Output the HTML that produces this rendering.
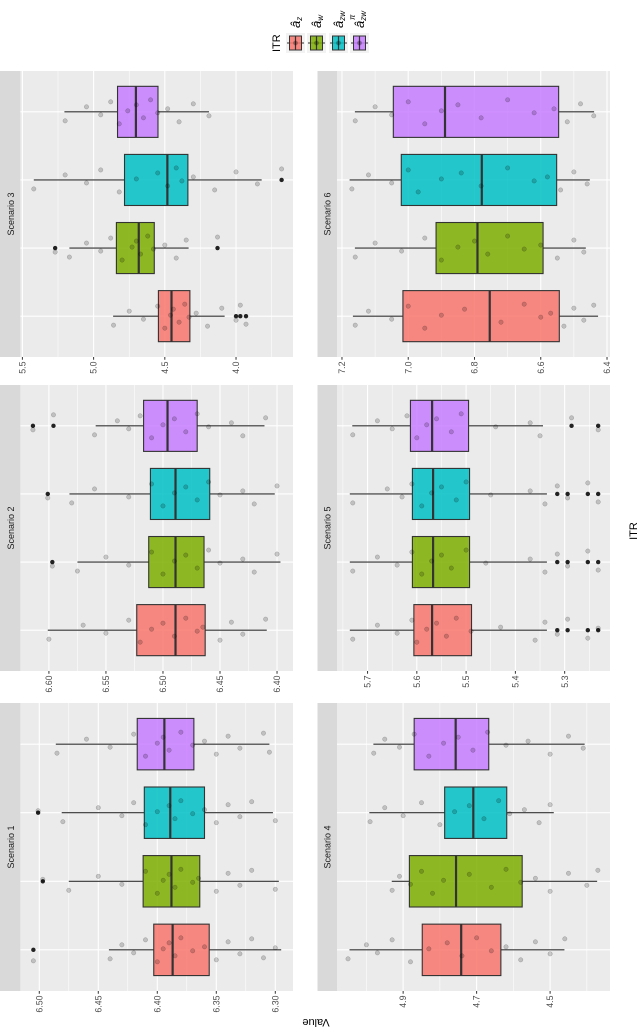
<!DOCTYPE html>
<html><head><meta charset="utf-8"><style>
html,body{margin:0;padding:0;background:#fff;}
body{width:640px;height:1032px;overflow:hidden;position:relative;}
#chart{position:absolute;left:0;top:0;transform-origin:0 0;transform:translate(0px,1032px) rotate(-90deg);}
text{font-family:"Liberation Sans",sans-serif;}
</style></head><body>
<svg id="chart" width="1032" height="640" viewBox="0 0 1032 640" xmlns="http://www.w3.org/2000/svg"></svg>
<script>
const scenarioNames = ['Scenario 1','Scenario 2','Scenario 3','Scenario 4','Scenario 5','Scenario 6'];
const groupNames = ['a_z','a_w','a_zw','a_zw_pi'];
const yMin = [6.285, 6.386, 3.60, 4.337, 5.208, 6.391];
const yMax = [6.516, 6.625, 5.514, 5.08, 5.762, 7.215];
const yTicks = [[6.30,6.35,6.40,6.45,6.50],[6.40,6.45,6.50,6.55,6.60],[4.0,4.5,5.0,5.5],[4.5,4.7,4.9],[5.3,5.4,5.5,5.6,5.7],[6.4,6.6,6.8,7.0,7.2]];
const tickDigits = [2,2,1,1,1,1];
const q1 = [[6.356,6.364,6.360,6.369],[6.463,6.464,6.459,6.470],[4.324,4.574,4.338,4.548],[4.634,4.576,4.618,4.667],[5.489,5.493,5.493,5.495],[6.544,6.593,6.552,6.546]];
const med = [[6.387,6.388,6.389,6.394],[6.489,6.489,6.489,6.496],[4.453,4.683,4.482,4.703],[4.742,4.756,4.709,4.757],[5.569,5.567,5.567,5.569],[6.754,6.791,6.778,6.889]];
const q3 = [[6.403,6.412,6.411,6.417],[6.523,6.5125,6.511,6.517],[4.545,4.840,4.783,4.832],[4.848,4.883,4.787,4.870],[5.606,5.609,5.609,5.613],[7.016,6.916,7.021,7.045]];
const wLow = [[6.295,6.297,6.302,6.305],[6.409,6.397,6.402,6.411],[4.080,4.333,3.82,4.19],[4.461,4.372,4.49,4.406],[5.336,5.336,5.336,5.344],[6.427,6.464,6.452,6.439]];
const wHigh = [[6.441,6.475,6.481,6.486],[6.601,6.575,6.582,6.559],[4.863,5.170,5.42,5.205],[5.046,4.931,4.992,4.981],[5.736,5.736,5.736,5.731],[7.167,7.161,7.177,7.161]];
const outliers = [[[6.505],[6.497],[6.501],[]],[[],[6.597],[6.601],[6.614,6.596]],[[4.00,3.97,3.93],[5.27,4.13],[3.68],[]],[[],[],[],[]],[[5.315,5.294,5.253,5.232],[5.315,5.294,5.253,5.232],[5.315,5.294,5.253,5.232],[5.286,5.232]],[[],[],[],[]]];
const jitterPts = [
 [[6.44,6.43,6.42,6.41,6.40,6.395,6.39,6.385,6.38,6.37,6.36,6.35,6.34,6.33,6.32,6.31,6.30,6.505],
  [6.475,6.45,6.43,6.41,6.40,6.395,6.39,6.385,6.38,6.37,6.365,6.35,6.34,6.33,6.32,6.30,6.497],
  [6.48,6.45,6.43,6.42,6.41,6.40,6.39,6.385,6.38,6.37,6.36,6.35,6.34,6.33,6.32,6.30,6.501],
  [6.485,6.46,6.44,6.42,6.41,6.40,6.395,6.39,6.38,6.37,6.36,6.35,6.34,6.33,6.31,6.305]],
 [[6.60,6.57,6.55,6.53,6.52,6.51,6.50,6.49,6.48,6.47,6.465,6.45,6.44,6.43,6.41],
  [6.575,6.55,6.53,6.51,6.50,6.49,6.48,6.47,6.46,6.45,6.43,6.42,6.40,6.597],
  [6.58,6.56,6.53,6.51,6.50,6.49,6.48,6.47,6.46,6.45,6.43,6.42,6.40,6.601],
  [6.56,6.54,6.53,6.52,6.51,6.50,6.49,6.48,6.47,6.46,6.44,6.43,6.41,6.614,6.596]],
 [[4.86,4.75,4.65,4.55,4.50,4.46,4.44,4.40,4.36,4.33,4.28,4.20,4.10,4.00,3.97,3.93],
  [5.17,5.05,4.95,4.88,4.80,4.73,4.70,4.67,4.62,4.58,4.50,4.42,4.35,5.27,4.13],
  [5.42,5.20,5.05,4.95,4.82,4.70,4.55,4.48,4.42,4.38,4.30,4.15,4.00,3.85,3.68],
  [5.20,5.05,4.95,4.88,4.82,4.76,4.70,4.65,4.60,4.55,4.48,4.40,4.30,4.19]],
 [[5.05,5.00,4.97,4.93,4.88,4.83,4.78,4.74,4.70,4.66,4.62,4.58,4.54,4.50,4.46],
  [4.93,4.91,4.88,4.85,4.82,4.79,4.72,4.66,4.62,4.58,4.54,4.50,4.45,4.40,4.37],
  [4.99,4.95,4.90,4.85,4.80,4.76,4.72,4.68,4.64,4.61,4.57,4.53,4.50],
  [4.98,4.95,4.91,4.87,4.83,4.79,4.75,4.71,4.67,4.62,4.56,4.50,4.45,4.41]],
 [[5.73,5.68,5.64,5.61,5.60,5.58,5.56,5.54,5.52,5.49,5.43,5.36,5.34,5.315,5.294,5.253,5.232],
  [5.73,5.68,5.64,5.61,5.59,5.57,5.55,5.53,5.50,5.46,5.37,5.34,5.315,5.294,5.253,5.232],
  [5.73,5.66,5.63,5.61,5.59,5.57,5.55,5.52,5.50,5.45,5.37,5.34,5.315,5.294,5.253,5.232],
  [5.73,5.68,5.65,5.62,5.60,5.58,5.56,5.53,5.51,5.44,5.37,5.35,5.286,5.232]],
 [[7.16,7.12,7.05,7.00,6.95,6.90,6.83,6.72,6.65,6.60,6.57,6.53,6.50,6.47,6.44],
  [7.16,7.10,7.02,6.95,6.90,6.85,6.80,6.76,6.70,6.65,6.60,6.55,6.50,6.47],
  [7.17,7.12,7.05,7.00,6.97,6.90,6.84,6.78,6.70,6.62,6.58,6.54,6.50,6.46],
  [7.16,7.10,7.05,7.00,6.95,6.90,6.85,6.78,6.70,6.62,6.56,6.52,6.48,6.44]]
];
const fills = ['#F8766D','#7CAE00','#00BFC4','#C77CFF'];
const NS='http://www.w3.org/2000/svg';
const svg=document.getElementById('chart');
function mk(tag,attrs,parent){const e=document.createElementNS(NS,tag);for(const k in attrs)e.setAttribute(k,attrs[k]);(parent||svg).appendChild(e);return e;}
const colX=[[41,329],[361,647],[675,961]];
const rowY=[[20.4,293],[337,610]];
const stripY=[[0,20.4],[317.5,337]];
const jOff=[-9,5,-3,10,-12,1,7,-6,12,-1,3,-10,8,-4,11,-8,2,-11];
for(let p=0;p<6;p++){
  const c=p%3,r=Math.floor(p/3);
  const x0=colX[c][0],x1=colX[c][1],y0=rowY[r][0],y1=rowY[r][1];
  const g=mk('g',{});
  
  
  const yS=v=>y1-(v-yMin[p])/(yMax[p]-yMin[p])*(y1-y0);
  const xS=i=>x0+(i+0.6)*(x1-x0)/4.2;
  const bw=0.75*(x1-x0)/4.2;
  mk('rect',{x:x0,y:y0,width:x1-x0,height:y1-y0,fill:'#EBEBEB'},g);
  const st=mk('rect',{x:x0,y:stripY[r][0],width:x1-x0,height:stripY[r][1]-stripY[r][0],fill:'#D9D9D9'},g);
  
  
  const stt=mk('text',{x:(x0+x1)/2,y:stripY[r][1]-6.5,'font-size':9,fill:'#1A1A1A','text-anchor':'middle'},g);
  stt.textContent=scenarioNames[p];
  
  
  const t=yTicks[p],step=t[1]-t[0];
  const minors=[];for(let i=-1;i<t.length;i++)minors.push(t[0]+(i+0.5)*step);
  minors.forEach(v=>{const yy=yS(v);if(yy>y0&&yy<y1)mk('line',{x1:x0,x2:x1,y1:yy,y2:yy,stroke:'#fff','stroke-width':0.55},g);});
  t.forEach(v=>{const yy=yS(v);
    mk('line',{x1:x0,x2:x1,y1:yy,y2:yy,stroke:'#fff','stroke-width':1.1},g);
    mk('line',{x1:x0-2.75,x2:x0,y1:yy,y2:yy,stroke:'#333','stroke-width':1},g);
    const tl=mk('text',{x:x0-4.5,y:yy+3.1,'font-size':8.8,fill:'#4D4D4D','text-anchor':'end'},g);
    tl.textContent=v.toFixed(tickDigits[p]);
    
    });
  for(let i=0;i<4;i++)mk('line',{x1:xS(i),x2:xS(i),y1:y0,y2:y1,stroke:'#fff','stroke-width':1.1},g);
  for(let i=0;i<4;i++){
    const cx=xS(i);
    mk('line',{x1:cx,x2:cx,y1:yS(wHigh[p][i]),y2:yS(q3[p][i]),stroke:'#333','stroke-width':1.1},g);
    mk('line',{x1:cx,x2:cx,y1:yS(q1[p][i]),y2:yS(wLow[p][i]),stroke:'#333','stroke-width':1.1},g);
    const b=mk('rect',{x:cx-bw/2,y:yS(q3[p][i]),width:bw,height:yS(q1[p][i])-yS(q3[p][i]),fill:fills[i],'fill-opacity':0.85,stroke:'#333','stroke-width':1.1},g);
    
    
    mk('line',{x1:cx-bw/2,x2:cx+bw/2,y1:yS(med[p][i]),y2:yS(med[p][i]),stroke:'#333','stroke-width':2.2},g);
    outliers[p][i].forEach(v=>{mk('circle',{cx:cx,cy:yS(v),r:2.2,fill:'#222'},g);});
    jitterPts[p][i].forEach((v,k)=>{const d=mk('circle',{cx:cx+jOff[k%jOff.length],cy:yS(v),r:2.2,fill:'rgba(0,0,0,0.18)',stroke:'rgba(0,0,0,0.25)','stroke-width':0.5},g);
      
      });
  }
}
const yt=mk('text',{x:0,y:0,'font-size':11,fill:'#000','text-anchor':'middle',transform:'translate(13,316) rotate(-90)'});
yt.textContent='Value';


const xt=mk('text',{x:501,y:637,'font-size':11,fill:'#000','text-anchor':'middle'});
xt.textContent='ITR';


const lg=mk('g',{});


const lt=mk('text',{x:980,y:280,'font-size':11,fill:'#000'},lg);
lt.textContent='ITR';
const keyY=[286,307,329,350];
const subs=['z','w','zw','zw'];
for(let i=0;i<4;i++){
  const ky=keyY[i];
  const key=mk('g',{},lg);
  
  
  mk('rect',{x:979,y:ky,width:20,height:19,fill:'#F2F2F2'},key);
  mk('line',{x1:989,x2:989,y1:ky+1,y2:ky+18,stroke:'#333','stroke-width':1},key);
  mk('rect',{x:982,y:ky+3.5,width:14,height:12,fill:fills[i],'fill-opacity':0.85,stroke:'#333','stroke-width':1},key);
  mk('line',{x1:982,x2:996,y1:ky+9.5,y2:ky+9.5,stroke:'#333','stroke-width':1.2},key);
  mk('circle',{cx:989,cy:ky+9.5,r:2.4,fill:'rgba(0,0,0,0.3)'},key);
  const tx=mk('text',{x:1004,y:ky+14,'font-size':13,'font-style':'italic',fill:'#000'},key);
  tx.textContent='â';
  const sb=mk('tspan',{'font-size':8,dy:2},tx);sb.textContent=subs[i];
  if(i===3){const sp=mk('tspan',{'font-size':8,dx:-9,dy:-11},tx);sp.textContent='π';}
}
</script>
</body></html>
